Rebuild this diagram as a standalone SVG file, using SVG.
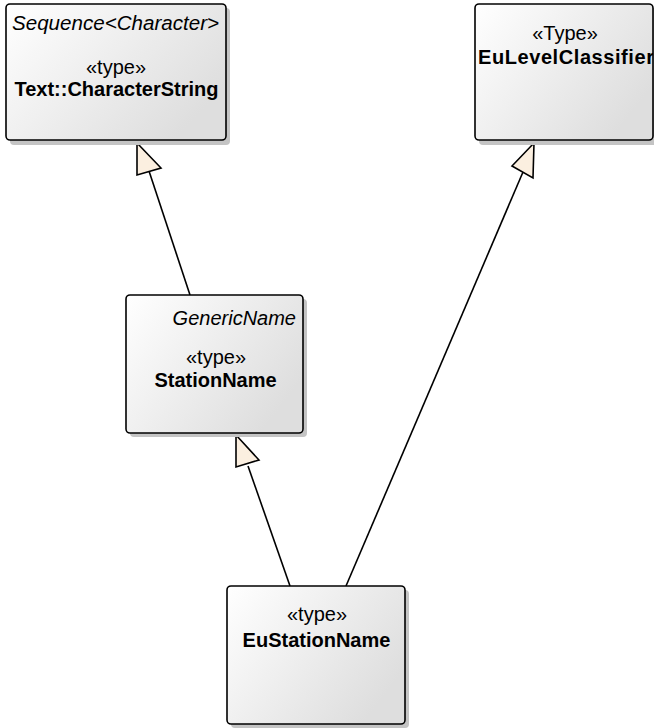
<svg xmlns="http://www.w3.org/2000/svg" width="654" height="728" viewBox="0 0 654 728">
  <defs>
    <linearGradient id="fill" x1="0" y1="0" x2="1" y2="0.6">
      <stop offset="0" stop-color="#ffffff"/>
      <stop offset="1" stop-color="#dedede"/>
    </linearGradient>
    <clipPath id="clipLevel">
      <rect x="475" y="4" width="178" height="136"/>
    </clipPath>
    <style>
      .box { fill: url(#fill); stroke: #000; stroke-width: 1.6; }
      .shadow { fill: #c4c4c4; }
      .t { font-family: "Liberation Sans", Arial, sans-serif; font-size: 20px; fill: #000; }
      .b { font-weight: bold; }
      .i { font-style: italic; }
      .edge { stroke: #000; stroke-width: 1.6; fill: none; }
      .head { fill: #fbefe0; stroke: #000; stroke-width: 1.6; stroke-linejoin: miter; }
    </style>
  </defs>

  <rect width="654" height="728" fill="#fff"/>

  <!-- generalization connectors -->
  <g id="connectors">
    <line class="edge" x1="149" y1="171" x2="190" y2="295"/>
    <polygon class="head" points="137,143 137,175 161,168"/>
    <line class="edge" x1="523" y1="172" x2="346" y2="586"/>
    <polygon class="head" points="534,143 512,166 533,178"/>
    <line class="edge" x1="248" y1="466" x2="290" y2="586"/>
    <polygon class="head" points="236,435 236,467 259,460"/>
  </g>

  <g id="CharacterString">
    <rect class="shadow" x="10" y="8" width="220" height="137" rx="4"/>
    <rect class="box" x="6" y="4" width="220" height="136" rx="4"/>
    <text class="t i" x="12" y="30" textLength="207" lengthAdjust="spacingAndGlyphs">Sequence&lt;Character&gt;</text>
    <text class="t" x="116" y="74" text-anchor="middle">«type»</text>
    <text class="t b" x="116.5" y="96" text-anchor="middle">Text::CharacterString</text>
  </g>

  <g id="EuLevelClassifier">
    <rect class="shadow" x="479" y="8" width="179" height="137" rx="4"/>
    <rect class="box" x="475" y="4" width="178" height="136" rx="4"/>
    <text class="t" x="565" y="40" text-anchor="middle">«Type»</text>
    <text class="t b" x="478" y="64" textLength="176" lengthAdjust="spacing" clip-path="url(#clipLevel)">EuLevelClassifier</text>
  </g>

  <g id="StationName">
    <rect class="shadow" x="130" y="299" width="177" height="138" rx="4"/>
    <rect class="box" x="126" y="295" width="177" height="138" rx="4"/>
    <text class="t i" x="296" y="325" text-anchor="end">GenericName</text>
    <text class="t" x="216" y="364" text-anchor="middle">«type»</text>
    <text class="t b" x="215.5" y="387" text-anchor="middle">StationName</text>
  </g>

  <g id="EuStationName">
    <rect class="shadow" x="231" y="590" width="178" height="138" rx="4"/>
    <rect class="box" x="227" y="586" width="178" height="138" rx="4"/>
    <text class="t" x="317" y="621" text-anchor="middle">«type»</text>
    <text class="t b" x="316.5" y="647" text-anchor="middle">EuStationName</text>
  </g>
</svg>
